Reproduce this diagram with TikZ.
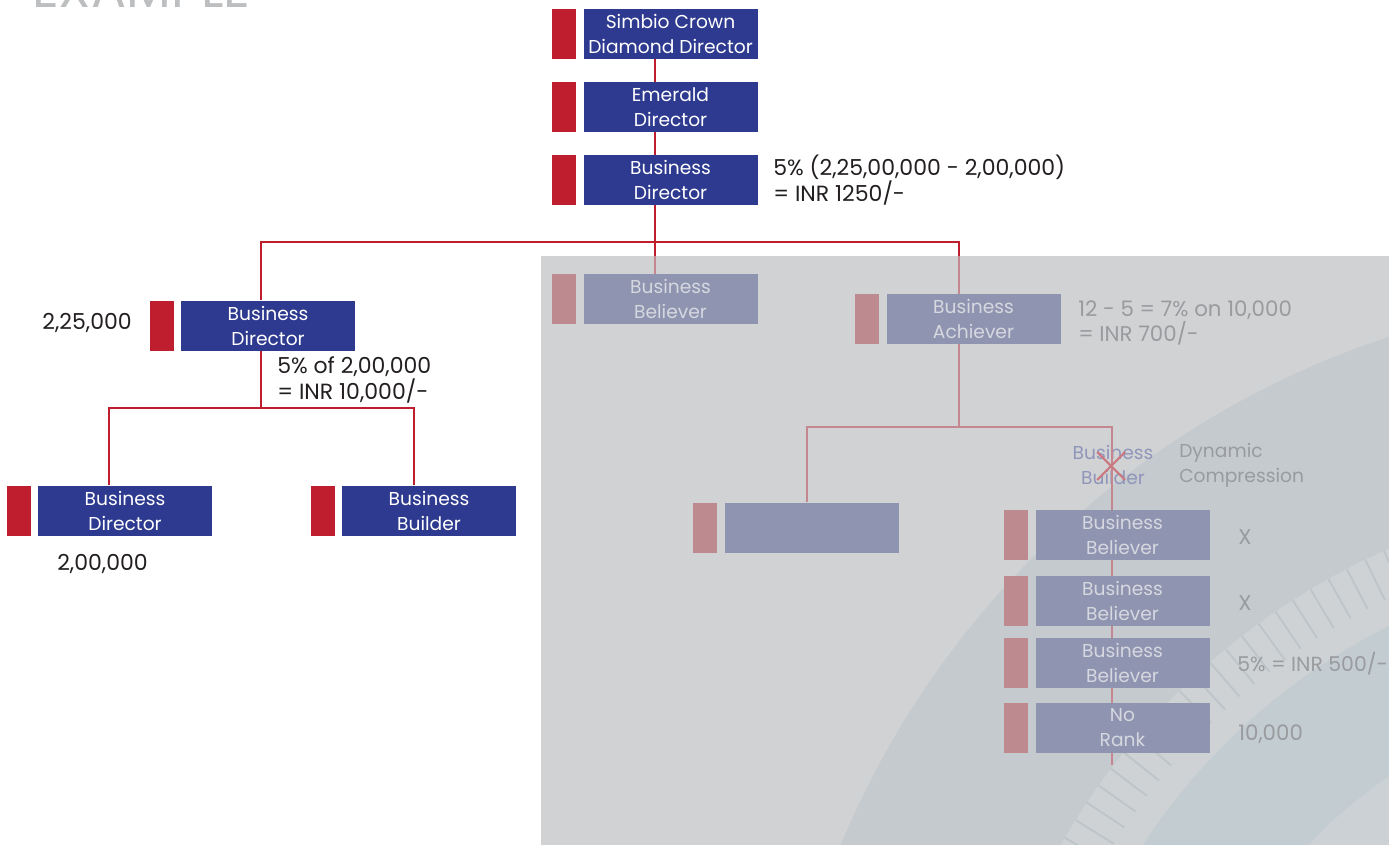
\documentclass[tikz,border=0pt]{standalone}
\usepackage{fontspec}
\setmainfont{Poppins}
\usetikzlibrary{positioning}
\definecolor{rbox}{HTML}{2E3A8F}
\definecolor{rtab}{HTML}{BE1E2D}
\definecolor{fbox}{HTML}{8F94B0}
\definecolor{ftab}{HTML}{BD8A90}
\definecolor{fline}{HTML}{C4868F}
\definecolor{ftext}{HTML}{D6D8E0}
\definecolor{flabel}{HTML}{999B9E}
\definecolor{fblue}{HTML}{9096BA}
\definecolor{greybg}{HTML}{D1D2D4}
\definecolor{bandA}{HTML}{C4CACE}
\definecolor{stripc}{HTML}{CFD2D4}
\definecolor{tickc}{HTML}{BEC5C9}
\definecolor{bandB}{HTML}{C3CCD1}
\definecolor{bandC}{HTML}{CBD1D4}
\definecolor{txt}{HTML}{231F20}
\definecolor{extxt}{HTML}{BCBEC0}
\newcommand{\rkfont}{\fontsize{14}{18.75}\selectfont}
\newcommand{\lbfont}{\fontsize{16.5}{19.5}\selectfont}
\newcommand{\flbfont}{\fontsize{16}{19}\selectfont}
\begin{document}
\begin{tikzpicture}[x=0.75pt,y=-0.75pt,
  rank/.style={fill=rbox,text=white,minimum width=130.5pt,minimum height=37.5pt,inner sep=0pt,align=center,font=\rkfont},
  frank/.style={rank,fill=fbox,text=ftext},
  tabbox/.style={fill=rtab,minimum width=18pt,minimum height=37.5pt,inner sep=0pt,left=4.9pt of #1},
  ftabbox/.style={tabbox=#1,fill=ftab},
  ln/.style={draw=rtab,line width=1.5pt},
  fln/.style={draw=fline,line width=1.5pt},
  lab/.style={text=txt,font=\lbfont,align=left,inner sep=0pt,anchor=west},
  flab/.style={lab,text=flabel,font=\flbfont}]
\useasboundingbox (0,0) rectangle (1389,845);
\fill[white] (0,0) rectangle (1389,845);
% shaded region with background arcs
\coordinate (gtop) at (541,256);
\coordinate (C) at (1670,1190);
\begin{scope}
  \clip (541,256) rectangle (1389,845);
  \fill[greybg] (541,256) rectangle (1389,845);
  \fill[bandA] (C) circle (898);
  \fill[stripc] (C) circle (700);
  \foreach \a in {200,201.7,...,256} \draw[tickc,line width=1.4pt] ([shift={(\a:655)}]C) -- ([shift={(\a:700)}]C);
  \fill[bandB] (C) circle (630);
  \fill[bandC] (C) circle (500);
\end{scope}
\node[anchor=base west,font=\fontsize{39}{44}\selectfont,text=extxt,inner sep=0pt] (ex) at (32,8) {EXAMPLE};
% ranks
\node[rank] (cd) at (670.5,34) {Simbio Crown\\Diamond Director};
\node[tabbox=cd] (cdt) {};
\node[rank] (em) at (670.5,107) {Emerald\\Director};
\node[tabbox=em] (emt) {};
\node[rank] (bd) at (670.5,180) {Business\\Director};
\node[tabbox=bd] (bdt) {};
\node[rank] (bdl) at (268,325.5) {Business\\Director};
\node[tabbox=bdl] (bdlt) {};
\node[rank] (bd2) at (125,510.5) {Business\\Director};
\node[tabbox=bd2] (bd2t) {};
\node[rank] (bb) at (429,510.5) {Business\\Builder};
\node[tabbox=bb] (bbt) {};
\node[frank] (bbel) at (670.5,299) {Business\\Believer};
\node[ftabbox=bbel] (bbelt) {};
\node[frank] (ach) at (973.5,319) {Business\\Achiever};
\node[ftabbox=ach] (acht) {};
\node[frank] (emp) at (811.5,527.5) {};
\node[ftabbox=emp] (empt) {};
\node[frank] (c1) at (1122.5,535) {Business\\Believer};
\node[ftabbox=c1] (c1t) {};
\node[frank] (c2) at (1122.5,601) {Business\\Believer};
\node[ftabbox=c2] (c2t) {};
\node[frank] (c3) at (1122.5,663) {Business\\Believer};
\node[ftabbox=c3] (c3t) {};
\node[frank] (c4) at (1122.5,728) {No\\Rank};
\node[ftabbox=c4] (c4t) {};
% labels
\node[lab] (l1) at (773,180) {5\% (2,25,00,000 - 2,00,000)\\= INR 1250/-};
\node[lab,anchor=east] (l2) at (132,323) {2,25,000};
\node[lab] (l3) at (277,380) {5\% of 2,00,000\\= INR 10,000/-};
\node[lab] (l4) at (57,564) {2,00,000};
\node[flab] (l5) at (1078,323) {12 - 5 = 7\% on 10,000\\= INR 700/-};
\node[flab,anchor=center,text=fblue,align=center,font=\rkfont] (bbx) at (1113,464.5) {Business\\Builder};
\node[flab,font=\rkfont] (dc) at (1179,465) {Dynamic\\Compression};
\node[flab] (x1) at (1238,537) {X};
\node[flab] (x2) at (1238,603) {X};
\node[flab,font=\fontsize{15.3}{19}\selectfont] (l6) at (1237,664) {5\% = INR 500/-};
\node[flab] (l7) at (1238,734) {10,000};
% connectors
\coordinate (j1) at (655,242);
\coordinate (jL) at (261,242);
\coordinate (jR) at (959,242);
\coordinate (j2) at (261,408);
\coordinate (j2L) at (109,408);
\coordinate (j2R) at (414,408);
\coordinate (j3) at (959,427);
\coordinate (j3L) at (807,427);
\coordinate (j3R) at (1112,427);
\coordinate (cend) at (1112,765);
\draw[ln] (cd.south -| j1) -- (em.north -| j1);
\draw[ln] (em.south -| j1) -- (bd.north -| j1);
\draw[ln] (bd.south -| j1) -- (j1 |- gtop);
\draw[fln] (j1 |- gtop) -- (bbel.north -| j1);
\draw[ln] (bdl.north -| jL) -- (jL) -- (jR) -- (jR |- gtop);
\draw[fln] (jR |- gtop) -- (ach.north -| jR);
\draw[ln] (bdl.south -| j2) -- (j2);
\draw[ln] (bd2.north -| j2L) -- (j2L) -- (j2R) -- (bb.north -| j2R);
\draw[fln] (ach.south -| j3) -- (j3);
\draw[fln] (emp.north -| j3L) -- (j3L) -- (j3R) -- (c1.north -| j3R);
\draw[fln] (c1.south -| j3R) -- (c2.north -| j3R);
\draw[fln] (c2.south -| j3R) -- (c3.north -| j3R);
\draw[fln] (c3.south -| j3R) -- (c4.north -| j3R);
\draw[fln] (c4.south -| j3R) -- (cend);
% cross over Business Builder
\coordinate (xm) at (1111,466);
\draw[draw=fline!90!red,line width=1.6pt] ([shift={(-14,-14)}]xm) -- ([shift={(14,14)}]xm) ([shift={(-14,14)}]xm) -- ([shift={(14,-14)}]xm);
\end{tikzpicture}
\end{document}
